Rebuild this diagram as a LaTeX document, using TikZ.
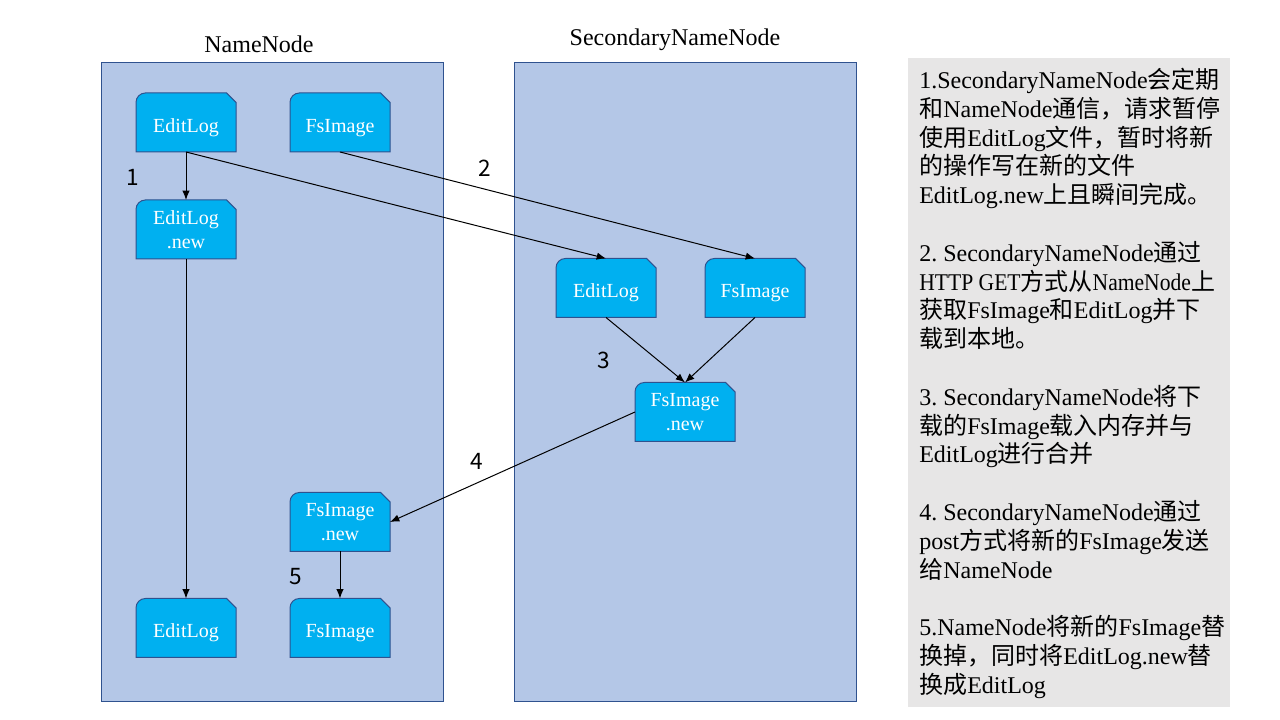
\documentclass[tikz,border=0pt]{standalone}
\usepackage{fontspec}
\setmainfont{Liberation Serif}
\newfontfamily\cjk{Noto Sans CJK SC}
\newfontfamily\narrowlat[FakeStretch=0.9]{Liberation Serif}
\usetikzlibrary{arrows.meta}
\definecolor{panelfill}{HTML}{B4C7E7}
\definecolor{panelline}{HTML}{2F528F}
\definecolor{filefill}{HTML}{00B0F0}
\definecolor{fileline}{HTML}{2F528F}
\definecolor{notefill}{HTML}{E7E6E6}
\newcommand\zh[1]{{\cjk #1}}
\pgfdeclarelayer{back}
\pgfdeclarelayer{mid}
\pgfsetlayers{back,mid,main}
\begin{document}
\begin{tikzpicture}[x=0.75pt,y=0.75pt,
  filebox/.style={minimum width=75pt,minimum height=44.25pt,inner sep=0pt,outer sep=0pt,align=center,text=white,font=\fontsize{15pt}{18pt}\selectfont},
  fileone/.style={filebox,text height=15pt,text depth=0pt},
  flow/.style={-{Latex[length=7pt,width=5.5pt]},line width=0.75pt},
  panel/.style={draw=panelline,fill=panelfill,line width=0.75pt,inner sep=0pt,minimum width=256.5pt,minimum height=479.25pt,anchor=south west},
  fileshape/.style={draw=fileline,fill=filefill,line width=0.75pt},
  title/.style={font=\fontsize{18pt}{21.6pt}\selectfont},
  steplabel/.style={font=\cjk\fontsize{17pt}{20pt}\selectfont}]
\useasboundingbox (0,0) rectangle (1280,720);

% panels and note box
\begin{pgfonlayer}{back}
\node[panel] (nnpanel) at (101,18) {};
\node[panel] (snnpanel) at (514,18) {};
\node[fill=notefill,inner sep=0pt,minimum width=241.5pt,minimum height=486.75pt,anchor=south west] (notebox) at (908,13) {};
\end{pgfonlayer}

\node[title] (nntitle) at (259,676) {NameNode};
\node[title] (snntitle) at (675,680) {SecondaryNameNode};

% files
\node[fileone] (e1) at (186,597.5) {EditLog};
\node[fileone] (f1) at (340,597.5) {FsImage};
\node[filebox] (en) at (186,490.5) {EditLog\\.new};
\node[fileone] (e2) at (606,432) {EditLog};
\node[fileone] (f2) at (755,432) {FsImage};
\node[filebox] (fn2) at (685,308) {FsImage\\.new};
\node[filebox] (fn1) at (340,198) {FsImage\\.new};
\node[fileone] (e3) at (186,92) {EditLog};
\node[fileone] (f3) at (340,92) {FsImage};

\begin{pgfonlayer}{mid}
\foreach \n in {e1,f1,en,e2,f2,fn2,fn1,e3,f3}{
  \draw[fileshape] (\n.south west) -- ([yshift=-7pt]\n.north west)
    arc[start angle=180,end angle=90,radius=7pt]
    -- ([xshift=-7pt]\n.north east) -- ([yshift=-7pt]\n.north east)
    -- (\n.south east) -- cycle;
}
\end{pgfonlayer}

% connectors
\draw[flow] (e1.south) -- (en.north);
\draw[flow] (e1.south) -- (e2.north);
\draw[flow] (f1.south) -- (f2.north);
\draw[flow] (e2.south) -- (fn2.north);
\draw[flow] (f2.south) -- (fn2.north);
\draw[flow] (fn2.west) -- (fn1.east);
\draw[flow] (fn1.south) -- (f3.north);
\draw[flow] (en.south) -- (e3.north);

% step numbers
\node[steplabel] (s1) at (133,543) {1};
\node[steplabel] (s2) at (485,552) {2};
\node[steplabel] (s3) at (604,360) {3};
\node[steplabel] (s4) at (477,259) {4};
\node[steplabel] (s5) at (296,143) {5};

% notes
\node[anchor=north west,inner sep=0pt,align=left,font=\fontsize{18pt}{21.6pt}\selectfont] (notes) at (919,652) {%
1.SecondaryNameNode\zh{会定期}\\
\zh{和}NameNode\zh{通信，请求暂停}\\
\zh{使用}EditLog\zh{文件，暂时将新}\\
\zh{的操作写在新的文件}\\
EditLog.new\zh{上且瞬间完成。}\\[21.6pt]
2.~SecondaryNameNode\zh{通过}\\
{\narrowlat HTTP GET}\zh{方式从}{\narrowlat NameNode}\zh{上}\\
\zh{获取}FsImage\zh{和}EditLog\zh{并下}\\
\zh{载到本地。}\\[21.6pt]
3.~SecondaryNameNode\zh{将下}\\
\zh{载的}FsImage\zh{载入内存并与}\\
EditLog\zh{进行合并}\\[21.6pt]
4.~SecondaryNameNode\zh{通过}\\
post\zh{方式将新的}FsImage\zh{发送}\\
\zh{给}NameNode\\[21.6pt]
5.NameNode\zh{将新的}FsImage\zh{替}\\
\zh{换掉，同时将}EditLog.new\zh{替}\\
\zh{换成}EditLog};
\end{tikzpicture}
\end{document}
